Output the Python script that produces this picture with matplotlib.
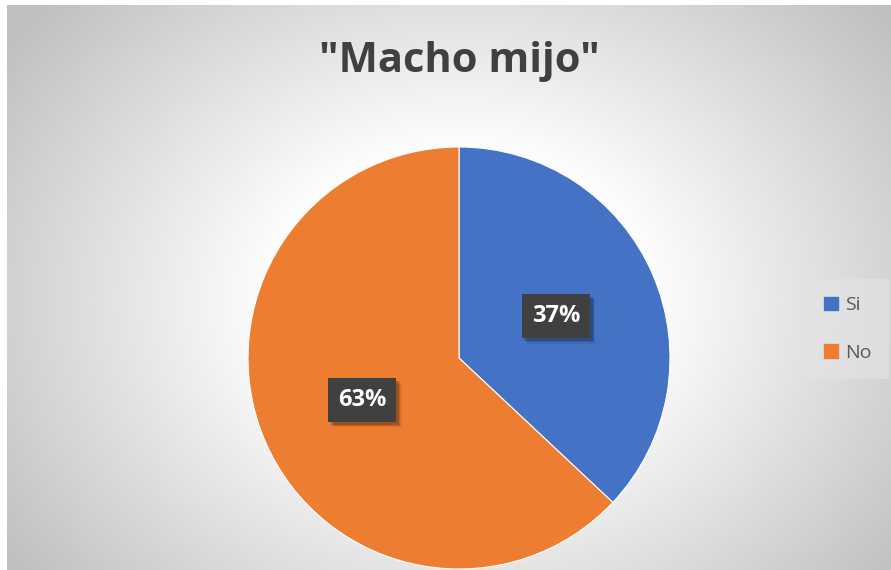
import numpy as np
import matplotlib; matplotlib.use("Agg")
import matplotlib.pyplot as plt
import matplotlib.patheffects as pe
from matplotlib.patches import Patch

labels = ["Si", "No"]
values = [37, 63]
colors = ["#4472C4", "#ED7D31"]
title = '"Macho mijo"'

plt.rcParams["font.family"] = ["Open Sans", "DejaVu Sans"]
W, H = 891, 570
fig = plt.figure(figsize=(W / 100, H / 100), dpi=100)

# radial gradient background (white centre, grey edges)
bg = fig.add_axes([0, 0, 1, 1]); bg.set_axis_off()
yy, xx = np.mgrid[0:H, 0:W]
d = np.sqrt(((xx - 459) / 520.0) ** 2 + ((yy - 300) / 420.0) ** 2)
g = np.clip(1.0 - 0.26 * np.clip(d - 0.35, 0, None) / 0.75, 0.75, 1.0)
img = np.dstack([g, g, g])
img[:, :7] = 1.0; img[:5, :] = 1.0
bg.imshow(img, extent=[0, W, H, 0], aspect="auto", interpolation="bilinear")
bg.set_xlim(0, W); bg.set_ylim(H, 0)

fig.text(459 / W, 1 - 62 / H, title, ha="center", va="center", fontsize=30,
         fontweight="bold", color="#404040")

r = 211
ax = fig.add_axes([(459 - r) / W, (H - 358 - r) / H, 2 * r / W, 2 * r / H])
wedges, _, autotexts = ax.pie(values, colors=colors, startangle=90, counterclock=False,
                              autopct="%d%%", pctdistance=0.5, radius=1,
                              wedgeprops=dict(edgecolor="white", linewidth=0.8))
ax.set_xlim(-1, 1); ax.set_ylim(-1, 1); ax.set_aspect("auto")
shadow = [pe.SimplePatchShadow(offset=(o, -o), alpha=a, shadow_rgbFace="black")
          for o, a in [(4, 0.08), (3, 0.12), (2, 0.18)]]
for t in autotexts:
    t.set_color("white"); t.set_fontsize(17); t.set_fontweight("bold")
    t.set_bbox(dict(boxstyle="square,pad=0.42", facecolor="#404040", edgecolor="none"))
    t.get_bbox_patch().set_path_effects(shadow + [pe.Normal()])

handles = [Patch(color=c, label=l) for c, l in zip(colors, labels)]
leg = fig.legend(handles=handles, loc="center", bbox_to_anchor=(848 / W, 1 - 329 / H),
                 frameon=True, fontsize=14, labelspacing=1.5, handlelength=0.7, handleheight=0.7,
                 handletextpad=0.4, borderpad=0.6)
leg.get_frame().set_facecolor("#e4e4e4"); leg.get_frame().set_edgecolor("none")
leg.get_frame().set_alpha(0.6); leg.get_frame().set_boxstyle("square")
for t in leg.get_texts():
    t.set_color("#595959")

plt.savefig("out.png", dpi=100)
